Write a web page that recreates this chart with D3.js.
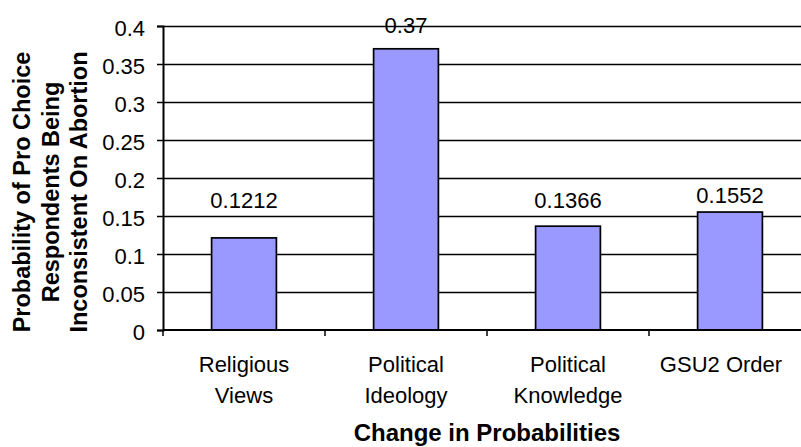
<!DOCTYPE html>
<html>
<head>
<meta charset="utf-8">
<script src="https://cdn.jsdelivr.net/npm/d3@7/dist/d3.min.js"></script>
<style>
  html, body { margin: 0; padding: 0; background: #fff; }
  svg { display: block; font-family: "Liberation Sans", Arial, sans-serif; }
</style>
</head>
<body>
<svg id="chart" width="801" height="447"></svg>
<script>
// ---- data ----
const categories = ["Religious Views", "Political Ideology", "Political Knowledge", "GSU2 Order"];
const categoryLines = [["Religious", "Views"], ["Political", "Ideology"], ["Political", "Knowledge"], ["GSU2 Order"]];
const values = [0.1212, 0.37, 0.1366, 0.1552];
const valueLabels = ["0.1212", "0.37", "0.1366", "0.1552"];
const yTicks = [0, 0.05, 0.1, 0.15, 0.2, 0.25, 0.3, 0.35, 0.4];
const yTickLabels = ["0", "0.05", "0.1", "0.15", "0.2", "0.25", "0.3", "0.35", "0.4"];
const yTitleLines = ["Probability of Pro Choice", "Respondents Being", "Inconsistent On Abortion"];
const xTitle = "Change in Probabilities";

// ---- layout ----
const plot = { left: 163, right: 811, top: 26, bottom: 330 };
const labelLift = [30, 16, 18, 9];      // px gap between bar top and value label baseline
const catLabelShift = [0, 0, 0, -9];    // px horizontal nudges for category labels

const svg = d3.select("#chart");

const x = d3.scaleBand()
  .domain(categories)
  .range([plot.left, plot.right])
  .paddingInner(0.6)
  .paddingOuter(0.3);

const y = d3.scaleLinear().domain([0, 0.4]).range([plot.bottom, plot.top]);

// gridlines
svg.append("g")
  .selectAll("line")
  .data(yTicks.filter(d => d > 0))
  .join("line")
  .attr("x1", plot.left)
  .attr("x2", plot.right)
  .attr("y1", d => Math.round(y(d)) + 0.5)
  .attr("y2", d => Math.round(y(d)) + 0.5)
  .attr("stroke", "#000")
  .attr("stroke-width", 1.3);

// bars
svg.append("g")
  .selectAll("rect")
  .data(values)
  .join("rect")
  .attr("x", (d, i) => x(categories[i]))
  .attr("y", d => y(d))
  .attr("width", x.bandwidth())
  .attr("height", d => y(0) - y(d))
  .attr("fill", "#9999FF")
  .attr("stroke", "#000")
  .attr("stroke-width", 1.7);

// y axis
const yAxis = d3.axisLeft(y)
  .tickValues(yTicks)
  .tickFormat((d, i) => yTickLabels[i])
  .tickSize(6)
  .tickPadding(12);
const gy = svg.append("g")
  .attr("transform", `translate(${plot.left},0)`)
  .call(yAxis);
gy.select(".domain").attr("stroke", "#000").attr("stroke-width", 2);
gy.selectAll(".tick line").attr("stroke", "#000").attr("stroke-width", 1.5);
gy.selectAll(".tick text")
  .attr("font-family", "Liberation Sans, Arial, sans-serif")
  .attr("font-size", 22)
  .attr("fill", "#000")
  .attr("dy", "0.45em");

// x axis
const xAxisG = svg.append("g");
xAxisG.append("line")
  .attr("x1", plot.left).attr("x2", plot.right)
  .attr("y1", plot.bottom).attr("y2", plot.bottom)
  .attr("stroke", "#000").attr("stroke-width", 2);
xAxisG.selectAll("line.tk")
  .data([plot.left, ...categories.slice(1).map(c => x(c) - x.step() * x.paddingInner() / 2), plot.right])
  .join("line")
  .attr("class", "tk")
  .attr("x1", d => d).attr("x2", d => d)
  .attr("y1", plot.bottom).attr("y2", plot.bottom + 6)
  .attr("stroke", "#000").attr("stroke-width", 1.5);

// category labels
const catG = svg.append("g");
categoryLines.forEach((lines, i) => {
  const cx = x(categories[i]) + x.bandwidth() / 2 + catLabelShift[i];
  const t = catG.append("text")
    .attr("text-anchor", "middle")
    .attr("font-size", 22)
    .attr("fill", "#000");
  lines.forEach((ln, j) => {
    t.append("tspan").attr("x", cx).attr("y", 372 + j * 31).text(ln);
  });
});

// value labels
svg.append("g")
  .selectAll("text")
  .data(values)
  .join("text")
  .attr("x", (d, i) => x(categories[i]) + x.bandwidth() / 2)
  .attr("y", (d, i) => y(d) - labelLift[i])
  .attr("text-anchor", "middle")
  .attr("font-size", 22)
  .attr("fill", "#000")
  .text((d, i) => valueLabels[i]);

// x title
svg.append("text")
  .attr("x", (plot.left + plot.right) / 2)
  .attr("y", 441)
  .attr("text-anchor", "middle")
  .attr("font-size", 24)
  .attr("font-weight", "bold")
  .attr("fill", "#000")
  .text(xTitle);

// y title
const yt = svg.append("text")
  .attr("transform", "translate(0,192) rotate(-90)")
  .attr("text-anchor", "middle")
  .attr("font-size", 23.5)
  .attr("font-weight", "bold")
  .attr("fill", "#000");
yTitleLines.forEach((ln, j) => {
  yt.append("tspan").attr("x", 0).attr("y", 30 + j * 28.5).text(ln);
});
</script>
</body>
</html>
